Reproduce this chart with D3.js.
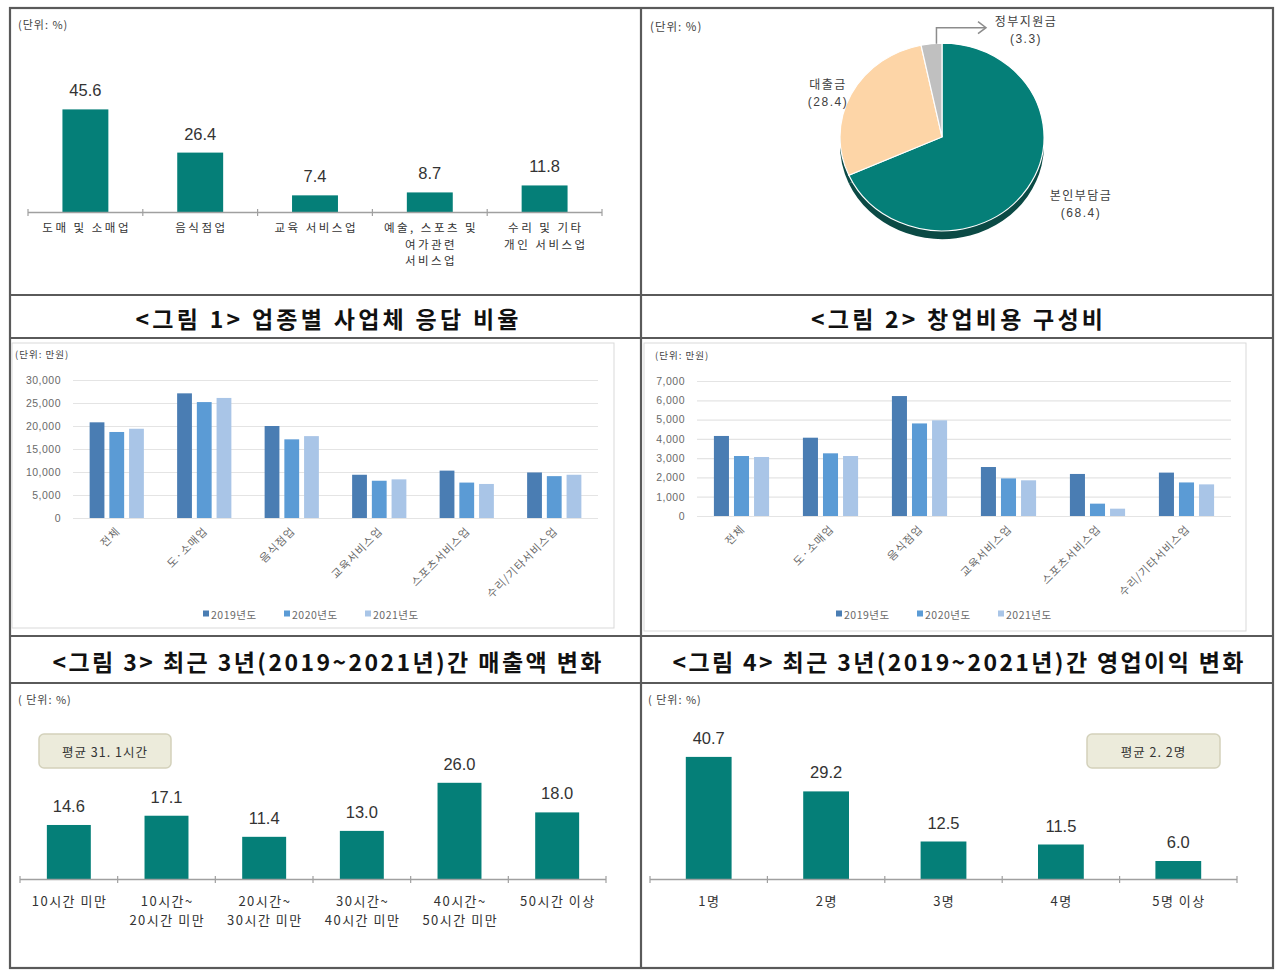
<!DOCTYPE html>
<html>
<head>
<meta charset="utf-8">
<script src="https://cdn.jsdelivr.net/npm/d3@7"></script>
<style>
body { margin: 0; background: #fff; }
svg { display: block; font-family: "Noto Sans CJK KR", "Noto Sans", sans-serif; }
</style>
</head>
<body>
<script>
// ---- data ----
var industryCats = ["도매 및 소매업", "음식점업", "교육 서비스업", "예술, 스포츠 및\n여가관련\n서비스업", "수리 및 기타\n개인 서비스업"];
var industryShare = [45.6, 26.4, 7.4, 8.7, 11.8];

var costCats = ["본인부담금", "대출금", "정부지원금"];
var costShare = [68.4, 28.4, 3.3];

var trendCats = ["전체", "도·소매업", "음식점업", "교육서비스업", "스포츠서비스업", "수리/기타서비스업"];
var yearNames = ["2019년도", "2020년도", "2021년도"];
var sales2019 = [20800, 27100, 20000, 9400, 10300, 9900];
var sales2020 = [18700, 25200, 17100, 8100, 7700, 9100];
var sales2021 = [19400, 26100, 17800, 8400, 7400, 9400];
var salesTicks = [0, 5000, 10000, 15000, 20000, 25000, 30000];
var profit2019 = [4150, 4060, 6220, 2540, 2180, 2250];
var profit2020 = [3110, 3250, 4800, 1950, 640, 1740];
var profit2021 = [3060, 3110, 4960, 1850, 380, 1640];
var profitTicks = [0, 1000, 2000, 3000, 4000, 5000, 6000, 7000];

var hourCats = ["10시간 미만", "10시간~\n20시간 미만", "20시간~\n30시간 미만", "30시간~\n40시간 미만", "40시간~\n50시간 미만", "50시간 이상"];
var hourShare = [14.6, 17.1, 11.4, 13.0, 26.0, 18.0];

var staffCats = ["1명", "2명", "3명", "4명", "5명 이상"];
var staffShare = [40.7, 29.2, 12.5, 11.5, 6.0];

var captions = ["<그림 1> 업종별 사업체 응답 비율", "<그림 2> 창업비용 구성비",
                "<그림 3> 최근 3년(2019~2021년)간 매출액 변화", "<그림 4> 최근 3년(2019~2021년)간 영업이익 변화"];

var teal = "#057f78";
var yearColors = ["#4a7db3", "#5b9bd5", "#a9c5e7"];
var pieColors = ["#057f78", "#fdd5a7", "#c0c0c0"];
var numFont = "'Liberation Sans', Arial, sans-serif";
var fmt = d3.format(".1f");

var svg = d3.select("body").append("svg")
    .attr("width", 1280)
    .attr("height", 973);

// table frame
var frame = svg.append("g").attr("fill", "none").attr("stroke", "#5a5a5a").attr("stroke-width", 2.2);
frame.append("rect").attr("x", 10).attr("y", 8).attr("width", 1263).attr("height", 960);
frame.append("line").attr("x1", 641).attr("x2", 641).attr("y1", 8).attr("y2", 968);
[295, 338, 636, 683].forEach(function(yy) {
    frame.append("line").attr("x1", 10).attr("x2", 1273).attr("y1", yy).attr("y2", yy);
});

var capPos = [[327, 318, 383], [957, 318, 292], [327, 661, 549], [958, 661, 571]];
captions.forEach(function(c, i) {
    svg.append("text")
        .attr("x", capPos[i][0])
        .attr("y", capPos[i][1])
        .attr("text-anchor", "middle")
        .attr("dominant-baseline", "central")
        .attr("textLength", capPos[i][2])
        .attr("lengthAdjust", "spacing")
        .style("font-size", "23px")
        .style("font-weight", "bold")
        .attr("fill", "#111")
        .text(c);
});

var unitText = function(x, y, txt, size) {
    svg.append("text")
        .attr("x", x).attr("y", y)
        .style("font-size", size + "px")
        .style("letter-spacing", "1px")
        .attr("fill", "#444")
        .text(txt);
};

var noteBox = function(x, y, w, h, txt) {
    svg.append("rect")
        .attr("x", x).attr("y", y).attr("width", w).attr("height", h)
        .attr("rx", 5)
        .attr("fill", "#ecebdb")
        .attr("stroke", "#d3d1bb")
        .attr("stroke-width", 1.5);
    svg.append("text")
        .attr("x", x + w / 2).attr("y", y + h / 2)
        .attr("text-anchor", "middle")
        .attr("dominant-baseline", "central")
        .style("font-size", "12.5px")
        .style("letter-spacing", "1px")
        .attr("fill", "#333")
        .text(txt);
};

function simpleBars(cats, vals, o) {
    var g = svg.append("g");
    var x = d3.scaleBand().domain(cats).range([o.x0, o.x1])
        .paddingInner(o.pad).paddingOuter(o.pad / 2);
    var y = d3.scaleLinear().domain([0, 10]).range([o.base, o.base - 10 * o.k]);
    var rows = cats.map(function(c, i) { return {c: c, v: vals[i]}; });

    g.selectAll("rect")
        .data(rows)
        .enter()
        .append("rect")
        .attr("x", function(d) { return x(d.c); })
        .attr("y", function(d) { return y(d.v); })
        .attr("width", x.bandwidth())
        .attr("height", function(d) { return o.base - y(d.v); })
        .attr("fill", teal);

    g.selectAll("text.val")
        .data(rows)
        .enter()
        .append("text")
        .attr("class", "val")
        .attr("x", function(d) { return x(d.c) + x.bandwidth() / 2; })
        .attr("y", function(d) { return y(d.v) - 13; })
        .attr("text-anchor", "middle")
        .style("font-family", numFont)
        .style("font-size", "16.5px")
        .attr("fill", "#333")
        .text(function(d) { return fmt(d.v); });

    g.append("line")
        .attr("x1", o.x0).attr("x2", o.x1)
        .attr("y1", o.base + 0.5).attr("y2", o.base + 0.5)
        .attr("stroke", "#a0a0a0")
        .attr("stroke-width", 1.5);

    g.selectAll("line.tk")
        .data(d3.range(cats.length + 1))
        .enter()
        .append("line")
        .attr("class", "tk")
        .attr("x1", function(i) { return o.x0 + i * x.step(); })
        .attr("x2", function(i) { return o.x0 + i * x.step(); })
        .attr("y1", o.base - 3)
        .attr("y2", o.base + 4)
        .attr("stroke", "#a0a0a0")
        .attr("stroke-width", 1.2);

    rows.forEach(function(d) {
        var t = g.append("text")
            .attr("text-anchor", "middle")
            .style("font-size", o.fs + "px")
            .style("letter-spacing", o.ls + "px")
            .attr("fill", "#333");
        d.c.split("\n").forEach(function(line, j) {
            t.append("tspan")
                .attr("x", x(d.c) + x.bandwidth() / 2 + o.ls / 2)
                .attr("y", o.labY + j * o.lh)
                .text(line);
        });
    });
}

function groupedBars(series, ticks, o) {
    var g = svg.append("g");
    g.append("rect")
        .attr("x", o.fx0).attr("y", o.fy0)
        .attr("width", o.fx1 - o.fx0).attr("height", o.fy1 - o.fy0)
        .attr("fill", "none")
        .attr("stroke", "#d9d9d9");

    var x0 = d3.scaleBand().domain(trendCats).range([o.x0, o.x1])
        .paddingInner(0.38).paddingOuter(0.19);
    var x1 = d3.scaleBand().domain(yearNames).range([0, x0.bandwidth()]).paddingInner(0.25);
    var y = d3.scaleLinear().domain([0, d3.max(ticks)]).range([o.base, o.top]);

    var ax = g.append("g")
        .attr("transform", "translate(" + o.x0 + ",0)")
        .call(d3.axisLeft(y).tickValues(ticks).tickSize(-(o.x1 - o.x0)).tickPadding(12)
            .tickFormat(d3.format(",")));
    ax.select(".domain").remove();
    ax.selectAll(".tick line").attr("stroke", "#e4e4e4").attr("stroke-width", 1.2);
    ax.selectAll(".tick text")
        .attr("fill", "#6a6a6a")
        .style("font-family", numFont)
        .style("font-size", "10.5px")
        .style("letter-spacing", "0.5px");

    series.forEach(function(vals, s) {
        g.selectAll("rect.s" + s)
            .data(vals)
            .enter()
            .append("rect")
            .attr("class", "s" + s)
            .attr("x", function(d, i) { return x0(trendCats[i]) + x1(yearNames[s]); })
            .attr("y", function(d) { return y(d); })
            .attr("width", x1.bandwidth())
            .attr("height", function(d) { return o.base - y(d); })
            .attr("fill", yearColors[s]);
    });

    g.selectAll("text.cat")
        .data(trendCats)
        .enter()
        .append("text")
        .attr("class", "cat")
        .attr("transform", function(d) {
            return "translate(" + (x0(d) + x0.bandwidth() / 2 + 4) + "," + (o.base + 14) + ") rotate(-45)";
        })
        .attr("text-anchor", "end")
        .style("font-size", "11px")
        .style("letter-spacing", "1px")
        .attr("fill", "#6a6a6a")
        .text(function(d) { return d; });

    var lg = g.append("g").attr("transform", "translate(" + o.legX + "," + o.legY + ")");
    yearNames.forEach(function(n, s) {
        lg.append("rect")
            .attr("x", s * 81).attr("y", -3.5)
            .attr("width", 6).attr("height", 6)
            .attr("fill", yearColors[s]);
        lg.append("text")
            .attr("x", s * 81 + 8).attr("y", 0)
            .attr("dominant-baseline", "central")
            .style("font-size", "10.5px")
            .style("letter-spacing", "0.5px")
            .attr("fill", "#6a6a6a")
            .text(n);
    });
}

// <그림 1>
unitText(18, 29, "(단위:  %)", 11);
simpleBars(industryCats, industryShare, {
    x0: 28, x1: 602, pad: 0.6, base: 212, k: 2.25,
    labY: 232, lh: 16.5, fs: 11.5, ls: 2.5
});

// <그림 2>
unitText(650, 31, "(단위: %)", 11.5);
var pcx = 942, pcy = 137, pr = 102, psy = 0.92;
var pie = d3.pie().sort(null).value(function(d) { return d.v; });
var slices = pie(costCats.map(function(c, i) { return {c: c, v: costShare[i]}; }));
var arc = d3.arc().innerRadius(0).outerRadius(pr);
var pg = svg.append("g").attr("transform", "translate(" + pcx + "," + pcy + ") scale(1," + psy + ")");
pg.append("g")
    .attr("transform", "translate(0,9)")
    .selectAll("path")
    .data(slices)
    .enter()
    .append("path")
    .attr("d", arc)
    .attr("fill", "#0b4a45");
pg.selectAll("path.slice")
    .data(slices)
    .enter()
    .append("path")
    .attr("class", "slice")
    .attr("d", arc)
    .attr("fill", function(d, i) { return pieColors[i]; })
    .attr("stroke", "#fff")
    .attr("stroke-width", 1.2);

// leader arrow for the small slice
var gs = slices[2];
var gMid = (gs.startAngle + gs.endAngle) / 2;
var ax0 = pcx + pr * Math.sin(gMid) + 5;
var ay0 = pcy - pr * psy * Math.cos(gMid);
svg.append("path")
    .attr("d", "M" + ax0 + "," + ay0 + "V" + (ay0 - 16) + "H" + 985)
    .attr("fill", "none")
    .attr("stroke", "#8c8c8c")
    .attr("stroke-width", 1.5);
svg.append("path")
    .attr("d", "M978," + (ay0 - 22) + "L986," + (ay0 - 16) + "L978," + (ay0 - 10))
    .attr("fill", "none")
    .attr("stroke", "#8c8c8c")
    .attr("stroke-width", 1.5);

var pieLabelPos = [[1081, 196], [828, 85], [1026, 22]];
slices.forEach(function(d, i) {
    var t = svg.append("text")
        .attr("text-anchor", "middle")
        .style("font-size", "12px")
        .style("letter-spacing", "1.5px")
        .attr("fill", "#404040");
    t.append("tspan").attr("x", pieLabelPos[i][0]).attr("y", pieLabelPos[i][1] + 4).text(d.data.c);
    t.append("tspan").attr("x", pieLabelPos[i][0]).attr("y", pieLabelPos[i][1] + 21)
        .style("font-family", numFont).text("(" + fmt(d.data.v) + ")");
});

// <그림 3>
groupedBars([sales2019, sales2020, sales2021], salesTicks, {
    fx0: 12, fy0: 343, fx1: 614, fy1: 628,
    x0: 73, x1: 598, base: 518, top: 380, legX: 203, legY: 614
});
unitText(15, 358, "(단위: 만원)", 9.5);

// <그림 4>
groupedBars([profit2019, profit2020, profit2021], profitTicks, {
    fx0: 644, fy0: 343, fx1: 1246, fy1: 631,
    x0: 697, x1: 1231, base: 516, top: 381, legX: 836, legY: 614
});
unitText(655, 359, "(단위: 만원)", 9.5);

// 영업시간
unitText(18, 704, "( 단위:  %)", 11);
noteBox(39, 734, 132, 34, "평균 31. 1시간");
simpleBars(hourCats, hourShare, {
    x0: 20, x1: 606, pad: 0.55, base: 879, k: 3.7,
    labY: 906, lh: 19, fs: 13, ls: 1.5
});

// 종사자 수
unitText(648, 704, "( 단위:  %)", 11);
noteBox(1087, 734, 133, 34, "평균 2. 2명");
simpleBars(staffCats, staffShare, {
    x0: 650, x1: 1237, pad: 0.61, base: 879, k: 3.0,
    labY: 906, lh: 19, fs: 13, ls: 1.5
});
</script>
</body>
</html>
